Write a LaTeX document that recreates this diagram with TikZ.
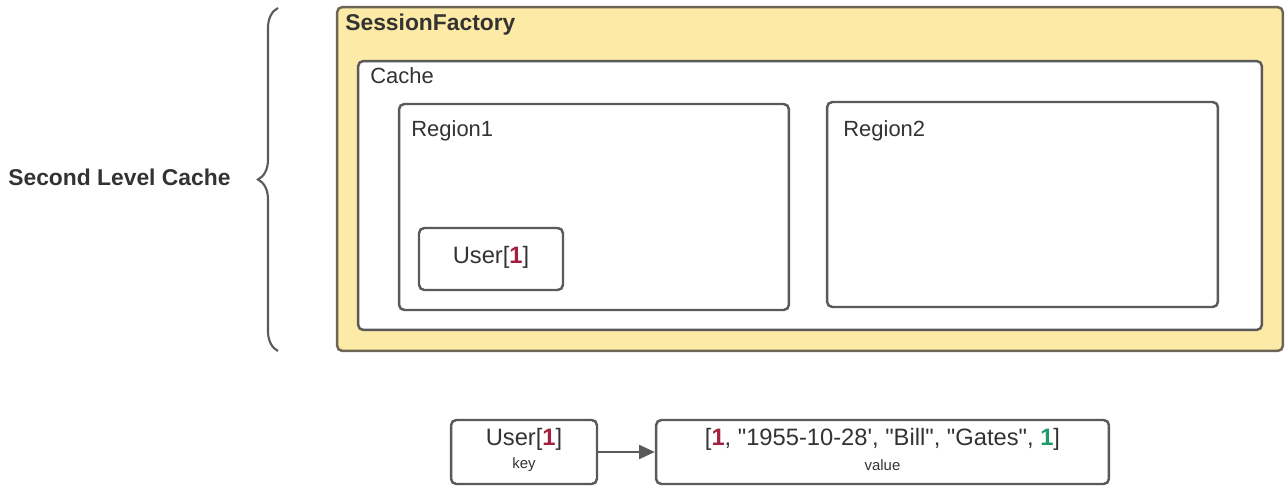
\documentclass[tikz,border=0pt]{standalone}
\usepackage{fontspec}
\setmainfont{Liberation Sans}
\usetikzlibrary{arrows.meta,decorations.pathreplacing}
\definecolor{sfyellow}{HTML}{FCEAA6}
\definecolor{sfborder}{HTML}{6A6554}
\definecolor{boxgray}{HTML}{5A5A5A}
\definecolor{txtgray}{HTML}{333333}
\definecolor{keyred}{HTML}{A3203F}
\definecolor{keygreen}{HTML}{1F9A6A}
\tikzset{
  box/.style={draw=boxgray,line width=1.4pt,rounded corners=3pt,fill=white,inner sep=0pt},
  lbl/.style={anchor=base west,inner sep=0pt,text=txtgray,font=\fontsize{12.5}{14}\selectfont},
  txt/.style={inner sep=0pt,text=txtgray,font=\fontsize{13.5}{16}\selectfont},
  small/.style={inner sep=0pt,text=txtgray,font=\fontsize{8.5}{10}\selectfont}
}
\newcommand{\redone}{\textcolor{keyred}{\textbf{1}}}
\newcommand{\greenone}{\textcolor{keygreen}{\textbf{1}}}
\newcommand{\dq}{\textquotedbl}
\begin{document}
\begin{tikzpicture}[x=0.02cm,y=-0.02cm]
\useasboundingbox (0,0) rectangle (1288,500);
% nested boxes
\node (sf) [box,fill=sfyellow,draw=sfborder,minimum width=18.92cm,minimum height=6.88cm] at (810,179) {};
\node (cache) [box,minimum width=18.08cm,minimum height=5.38cm] at (810,195.5) {};
\node (reg1) [box,minimum width=7.8cm,minimum height=4.12cm] at (594,207) {};
\node (reg2) [box,minimum width=7.82cm,minimum height=4.1cm] at (1022.5,204.5) {};
\node (user) [box,minimum width=2.88cm,minimum height=1.24cm] at (491,259) {};
\node (usertxt) [txt] at (491,257) {User[\redone]};
% titles
\node (sftitle) [lbl,font=\fontsize{13}{15}\selectfont\bfseries] at (345,31) {SessionFactory};
\node (cachetitle) [lbl] at (370,84) {Cache};
\node (reg1title) [lbl] at (411,136) {Region1};
\node (reg2title) [lbl] at (843,136) {Region2};
% brace
\draw[boxgray,line width=1.2pt,decorate,decoration={brace,amplitude=0.4cm}] (278,351) -- (278,8);
\node (slc) [lbl,font=\fontsize{13}{15}\selectfont\bfseries] at (8,185) {Second Level Cache};
% key / value
\node (key) [box,minimum width=2.92cm,minimum height=1.28cm] at (524,452) {};
\node (keytxt) [txt] at (524,439) {User[\redone]};
\node (keylbl) [small] at (524,465) {key};
\node (val) [box,minimum width=9.06cm,minimum height=1.28cm] at (882.5,452) {};
\node (valtxt) [txt] at (882.5,439) {[\redone, \dq1955-10-28\textquotesingle, \dq Bill\dq, \dq Gates\dq, \greenone]};
\node (vallbl) [small] at (882.5,465) {value};
\draw[boxgray,line width=1.2pt,-{Triangle[length=9pt,width=8pt]}] (key) -- (val);
\end{tikzpicture}
\end{document}
